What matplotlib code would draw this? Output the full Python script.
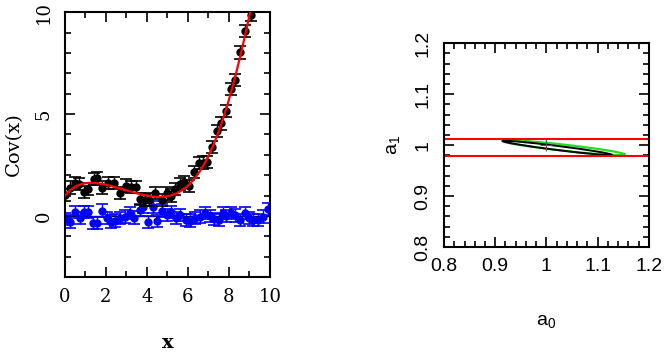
import matplotlib
matplotlib.use('Agg')
import matplotlib.pyplot as plt
from matplotlib.patches import Ellipse
from matplotlib.ticker import MultipleLocator
import numpy as np

plt.rcParams['mathtext.fontset'] = 'custom'
plt.rcParams['mathtext.rm'] = 'Liberation Sans'

# left panel data (positions)
x_black = [0.00, 0.24, 0.49, 0.70, 0.93, 1.14, 1.43, 1.55, 1.82, 2.11,
           2.39, 2.71, 2.98, 3.20, 3.45, 3.66, 3.90, 4.10, 4.39, 4.72,
           4.96, 5.20, 5.37, 5.60, 5.80, 6.06, 6.29, 6.55, 6.75, 6.94,
           7.20, 7.40, 7.64, 7.84, 8.10, 8.29, 8.54, 8.78, 9.06]
y_black = [1.03, 1.39, 1.63, 1.55, 1.19, 1.31, 1.81, 1.84, 1.39, 1.63,
           1.63, 1.14, 1.49, 1.40, 1.42, 0.83, 0.78, 0.80, 1.11, 0.78,
           1.10, 1.00, 1.31, 1.55, 1.65, 1.48, 2.14, 2.58, 2.62, 2.63,
           3.40, 4.17, 4.54, 5.15, 6.21, 6.67, 8.02, 9.08, 9.85]
err_black = 0.3

x_blue = [0.00, 0.24, 0.49, 0.73, 0.93, 1.14, 1.38, 1.55, 1.82, 2.07,
          2.23, 2.44, 2.68, 2.93, 3.17, 3.37, 3.66, 3.80, 4.07, 4.28,
          4.50, 4.72, 4.96, 5.20, 5.40, 5.60, 5.90, 6.10, 6.34, 6.59,
          6.83, 7.07, 7.27, 7.50, 7.72, 7.88, 8.10, 8.29, 8.54, 8.78,
          9.00, 9.20, 9.43, 9.67, 9.92]
y_blue = [-0.15, -0.28, 0.21, -0.11, 0.21, 0.21, -0.33, -0.33, 0.26, -0.11,
          -0.28, -0.23, -0.11, -0.03, 0.13, -0.08, 0.29, 0.42, -0.29, 0.42,
          -0.25, 0.26, 0.05, 0.21, -0.11, 0.05, -0.20, -0.23, -0.11, -0.03,
          0.13, 0.00, -0.16, -0.20, 0.13, 0.00, 0.13, 0.02, -0.20, 0.13,
          -0.11, -0.20, -0.20, -0.03, 0.33]
err_blue = 0.3

# fitted model curve
x_fit = [0, 0.5, 1, 1.5, 2, 2.5, 3, 3.5, 4, 4.5, 5, 5.5, 6, 6.5, 7, 7.5, 8, 8.5, 9.05]
y_fit = [1.0, 1.40, 1.60, 1.63, 1.55, 1.40, 1.25, 1.10, 0.98, 0.93, 0.96, 1.15,
         1.50, 2.10, 2.95, 4.05, 5.65, 7.7, 10.0]

# right panel: parameter constraints
a_true = (1.0, 1.0)
band_a1 = (0.979, 1.012)
ell_black = dict(xy=(1.0215, 0.9944), width=0.2146, height=0.008, angle=-7.2)
ell_green = dict(xy=(1.0334, 0.995), width=0.241, height=0.012, angle=-6.4)

fig = plt.figure(figsize=(6.65, 3.57), dpi=100)

serif = 'DejaVu Serif'
sans = 'Liberation Sans'

# ---- left panel
ax1 = fig.add_axes([0.0977, 0.224, 0.308, 0.742])
ax1.axhline(0, color='black', lw=1, zorder=1)
ax1.errorbar(x_blue, y_blue, yerr=err_blue, fmt='o', color='blue', ms=5,
             capsize=4, elinewidth=1, capthick=1.2, zorder=2)
ax1.errorbar(x_black, y_black, yerr=err_black, fmt='o', color='black', ms=5,
             capsize=4, elinewidth=1, capthick=1.2, zorder=3)
cf = np.polyfit(x_fit, y_fit, 6)
xx = np.linspace(0, 9.1, 300)
ax1.plot(xx, np.polyval(cf, xx), color='red', lw=1.6, zorder=4)
ax1.set_xlim(0, 10)
ax1.set_ylim(-3, 10)
ax1.xaxis.set_major_locator(MultipleLocator(2))
ax1.xaxis.set_minor_locator(MultipleLocator(1))
ax1.yaxis.set_major_locator(MultipleLocator(5))
ax1.yaxis.set_minor_locator(MultipleLocator(1))
ax1.set_xlabel('x', fontfamily=serif, fontsize=14, fontweight='bold', labelpad=20)
ax1.set_ylabel('Cov(x)', fontfamily=serif, fontsize=14, labelpad=8)
for lab in ax1.get_yticklabels():
    lab.set_rotation(90)
    lab.set_va('center')

# ---- right panel
ax2 = fig.add_axes([0.6677, 0.308, 0.308, 0.571])
ax2.axhline(band_a1[0], color='red', lw=1.5)
ax2.axhline(band_a1[1], color='red', lw=1.5)
ax2.add_patch(Ellipse(fill=False, edgecolor='#22dd22', lw=1.6, **ell_green))
ax2.add_patch(Ellipse(fill=False, edgecolor='black', lw=1.4, **ell_black))
ax2.plot(*a_true, marker='+', color='#555555', ms=9, mew=0.8)
ax2.set_xlim(0.8, 1.2)
ax2.set_ylim(0.8, 1.2)
for ax in (ax2.xaxis, ax2.yaxis):
    ax.set_major_locator(MultipleLocator(0.1))
    ax.set_minor_locator(MultipleLocator(0.02))
ax2.set_xticks([0.8, 0.9, 1.0, 1.1, 1.2], ['0.8', '0.9', '1', '1.1', '1.2'])
ax2.set_yticks([0.8, 0.9, 1.0, 1.1, 1.2], ['0.8', '0.9', '1', '1.1', '1.2'])
ax2.set_xlabel('a$_0$', fontfamily=sans, fontsize=14, labelpad=28)
ax2.set_ylabel('a$_1$', fontfamily=sans, fontsize=14, labelpad=8)
for lab in ax2.get_yticklabels():
    lab.set_rotation(90)
    lab.set_va('center')

for ax, fam, fs in ((ax1, serif, 13), (ax2, sans, 14)):
    ax.tick_params(which='both', direction='in', top=True, right=True,
                   width=1.2, labelsize=fs)
    ax.tick_params(axis='x', pad=8)
    ax.tick_params(axis='y', pad=9)
    ax.tick_params(which='major', length=7)
    ax.tick_params(which='minor', length=4)
    for lab in ax.get_xticklabels() + ax.get_yticklabels():
        lab.set_fontfamily(fam)
    for sp in ax.spines.values():
        sp.set_linewidth(1.5)

fig.savefig('out.png', dpi=100)
